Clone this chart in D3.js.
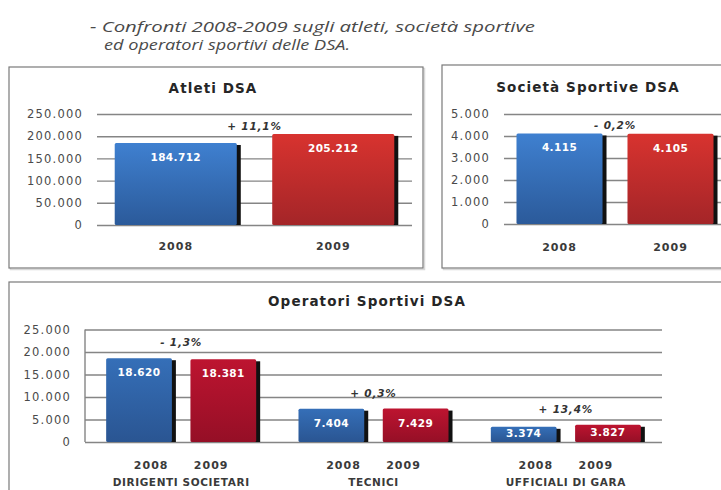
<!DOCTYPE html>
<html>
<head>
<meta charset="utf-8">
<script src="https://cdn.jsdelivr.net/npm/d3@7"></script>
<style>
  html, body { margin: 0; padding: 0; background: #fff; }
  svg { display: block; }
</style>
</head>
<body>
<svg id="chart" width="721" height="490"></svg>
<script>
// ---- data ----
const years = ["2008", "2009"];

const atletiValues = [184712, 205212];
const atletiTicks = [0, 50000, 100000, 150000, 200000, 250000];
const atletiChange = "+ 11,1%";

const societaValues = [4115, 4105];
const societaTicks = [0, 1000, 2000, 3000, 4000, 5000];
const societaChange = "- 0,2%";

const operatoriCategories = ["DIRIGENTI SOCIETARI", "TECNICI", "UFFICIALI DI GARA"];
const operatori2008 = [18620, 7404, 3374];
const operatori2009 = [18381, 7429, 3827];
const operatoriTicks = [0, 5000, 10000, 15000, 20000, 25000];
const operatoriChange = ["- 1,3%", "+ 0,3%", "+ 13,4%"];

const headingLines = [
  "- Confronti 2008-2009 sugli atleti, società sportive",
  "ed operatori sportivi delle DSA."
];

// ---- helpers ----
const it = d3.formatLocale({ decimal: ",", thousands: ".", grouping: [3], currency: ["€", ""] });
const fmt = it.format(",d");

const svg = d3.select("#chart");
const FONT = "'DejaVu Sans', sans-serif";

// gradients for the bars
const defs = svg.append("defs");
function grad(id, top, bottom) {
  const lg = defs.append("linearGradient").attr("id", id)
    .attr("x1", 0).attr("y1", 0).attr("x2", 0).attr("y2", 1);
  lg.append("stop").attr("offset", "0%").attr("stop-color", top);
  lg.append("stop").attr("offset", "100%").attr("stop-color", bottom);
}
grad("blue", "#3f80d0", "#2b5a9a");
grad("red", "#d8332f", "#a42528");
grad("blue2", "#356fb8", "#2a5592");
grad("red2", "#bd1430", "#950f26");

// heading
svg.append("g").selectAll("text").data(headingLines).join("text")
  .attr("x", (d, i) => i === 0 ? 90 : 104)
  .attr("y", (d, i) => i === 0 ? 32 : 50)
  .attr("textLength", (d, i) => i === 0 ? 445 : 246)
  .attr("lengthAdjust", "spacingAndGlyphs")
  .attr("font-family", "'Open Sans', sans-serif")
  .attr("font-style", "italic")
  .attr("font-size", 15)
  .attr("fill", "#4a4a4a")
  .text(d => d);

function panelBox(x, y, w, h, title, titleX, titleY) {
  svg.append("rect").attr("x", x + 1.5).attr("y", y + 1.5).attr("width", w).attr("height", h)
    .attr("fill", "none").attr("stroke", "#d8d8d8").attr("stroke-width", 1.5);
  svg.append("rect").attr("x", x).attr("y", y).attr("width", w).attr("height", h)
    .attr("fill", "#fff").attr("stroke", "#7a7a7a").attr("stroke-width", 1.2);
  svg.append("text").attr("x", titleX).attr("y", titleY)
    .attr("text-anchor", "middle").attr("dominant-baseline", "middle")
    .attr("font-family", FONT).attr("font-weight", "bold").attr("font-size", 13.5)
    .attr("letter-spacing", 1.1)
    .attr("fill", "#262626").text(title);
}

function yAxis(y, ticks, left, width) {
  const g = svg.append("g").attr("transform", `translate(${left},0)`)
    .call(d3.axisLeft(y).tickValues(ticks).tickSize(-width).tickPadding(14).tickFormat(fmt));
  g.select(".domain").remove();
  g.selectAll(".tick line").attr("stroke", "#858585").attr("stroke-width", 1.4);
  g.selectAll(".tick text").attr("font-family", FONT).attr("font-size", 11.5)
    .attr("letter-spacing", 1.2).attr("fill", "#4a4a4a");
  return g;
}

function bar(g, x, yTop, w, yBase, fill) {
  const h = yBase - yTop;
  g.append("rect").attr("x", x + 4).attr("y", yTop + 2).attr("width", w).attr("height", h - 2)
    .attr("fill", "#111");
  g.append("rect").attr("x", x).attr("y", yTop).attr("width", w).attr("height", h)
    .attr("rx", 1.5).attr("fill", fill);
}

function valueLabel(cx, yTop, yBase, v) {
  const off = Math.min(15, (yBase - yTop) / 2);
  svg.append("text").attr("x", cx).attr("y", yTop + off)
    .attr("text-anchor", "middle").attr("dominant-baseline", "middle")
    .attr("font-family", FONT).attr("font-weight", "bold").attr("font-size", 10.5)
    .attr("letter-spacing", 0.4).attr("fill", "#fff").text(fmt(v));
}

function changeLabel(cx, yy, t) {
  svg.append("text").attr("x", cx).attr("y", yy)
    .attr("text-anchor", "middle").attr("dominant-baseline", "middle")
    .attr("font-family", FONT).attr("font-weight", "bold").attr("font-style", "italic")
    .attr("font-size", 10.5).attr("letter-spacing", 0.8).attr("fill", "#333").text(t);
}

function yearLabel(cx, yy, t) {
  svg.append("text").attr("x", cx).attr("y", yy)
    .attr("text-anchor", "middle").attr("dominant-baseline", "middle")
    .attr("font-family", FONT).attr("font-weight", "bold").attr("font-size", 11)
    .attr("letter-spacing", 1).attr("fill", "#3a3a3a").text(t);
}

// two-bar panels (Atleti, Società)
function simplePanel(cfg) {
  panelBox(cfg.box[0], cfg.box[1], cfg.box[2], cfg.box[3], cfg.title, cfg.titleX, cfg.titleY);
  const y = d3.scaleLinear().domain([0, d3.max(cfg.ticks)]).range(cfg.yRange);
  const x = d3.scaleBand().domain(years).range(cfg.xRange).paddingInner(0.225).paddingOuter(0.1125);
  yAxis(y, cfg.ticks, cfg.xRange[0], cfg.xRange[1] - cfg.xRange[0]);
  const g = svg.append("g");
  const fills = ["url(#blue)", "url(#red)"];
  years.forEach((yr, i) => {
    bar(g, x(yr), y(cfg.values[i]), x.bandwidth(), y(0), fills[i]);
  });
  years.forEach((yr, i) => {
    valueLabel(x(yr) + x.bandwidth() / 2, y(cfg.values[i]), y(0), cfg.values[i]);
    yearLabel(x(yr) + x.bandwidth() / 2, cfg.yearY, yr);
  });
  const mid = (x(years[0]) + x.bandwidth() + x(years[1])) / 2;
  changeLabel(mid, y(d3.max(cfg.values)) - 7, cfg.change);
}

simplePanel({
  box: [9, 67, 414, 201], title: "Atleti DSA", titleX: 213, titleY: 89,
  ticks: atletiTicks, values: atletiValues, change: atletiChange,
  yRange: [225, 114], xRange: [97, 412], yearY: 247
});

simplePanel({
  box: [442, 65, 300, 203], title: "Società Sportive DSA", titleX: 588, titleY: 88,
  ticks: societaTicks, values: societaValues, change: societaChange,
  yRange: [224, 114], xRange: [504, 726], yearY: 248
});

// grouped panel (Operatori)
(function () {
  panelBox(9, 282, 730, 230, "Operatori Sportivi DSA", 367, 302);
  const left = 85, right = 662;
  const y = d3.scaleLinear().domain([0, d3.max(operatoriTicks)]).range([442, 329.5]);
  const x0 = d3.scaleBand().domain(operatoriCategories).range([left, right])
    .paddingInner(0.22).paddingOuter(0.11);
  const x1 = d3.scaleBand().domain(years).range([0, x0.bandwidth()]).paddingInner(0.22);
  const xl = d3.scalePoint().domain(years).range([x0.bandwidth() / 2 - 30, x0.bandwidth() / 2 + 30]);
  yAxis(y, operatoriTicks, left, right - left);
  svg.append("line").attr("x1", left).attr("x2", left).attr("y1", y(d3.max(operatoriTicks))).attr("y2", y(0))
    .attr("stroke", "#858585").attr("stroke-width", 1.4);

  const series = [operatori2008, operatori2009];
  const fills = ["url(#blue2)", "url(#red2)"];
  const g = svg.append("g");
  operatoriCategories.forEach((c, ci) => {
    years.forEach((yr, si) => {
      bar(g, x0(c) + x1(yr), y(series[si][ci]), x1.bandwidth(), y(0), fills[si]);
    });
  });
  operatoriCategories.forEach((c, ci) => {
    years.forEach((yr, si) => {
      valueLabel(x0(c) + x1(yr) + x1.bandwidth() / 2, y(series[si][ci]), y(0), series[si][ci]);
      yearLabel(x0(c) + xl(yr), 466, yr);
    });
    const cx = x0(c) + x0.bandwidth() / 2;
    svg.append("text").attr("x", cx).attr("y", 483)
      .attr("text-anchor", "middle").attr("dominant-baseline", "middle")
      .attr("font-family", FONT).attr("font-weight", "bold").attr("font-size", 10.5)
      .attr("letter-spacing", 0.6).attr("fill", "#3a3a3a").text(c);
    const top = y(Math.max(operatori2008[ci], operatori2009[ci]));
    changeLabel(cx, top - 15, operatoriChange[ci]);
  });
})();
</script>
</body>
</html>
